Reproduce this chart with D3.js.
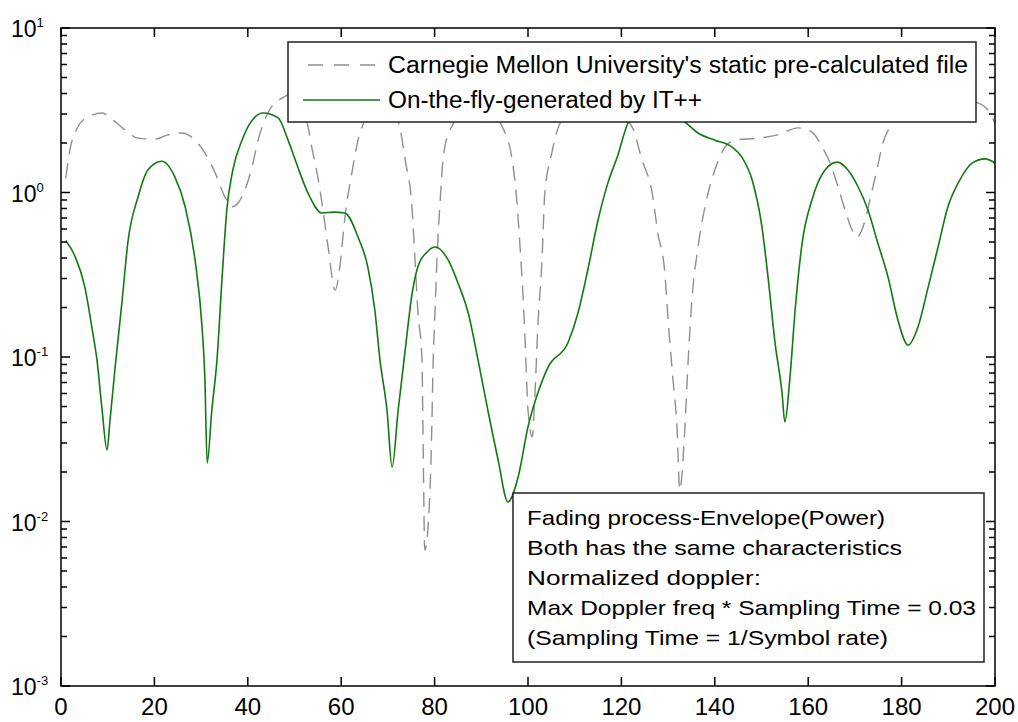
<!DOCTYPE html>
<html><head><meta charset="utf-8">
<script src="https://cdn.jsdelivr.net/npm/d3@7/dist/d3.min.js"></script>
<style>body{margin:0;background:#fff}svg{display:block}text{font-family:"Liberation Sans",Arial,sans-serif;fill:#000}</style>
</head><body><svg id="c" width="1018" height="722"></svg>
<script>
const greenX = [1,3,5.1,6.6,7.7,8.8,9.85,10.5,11.6,13.1,14.3,16.5,18.6,21.6,24.4,26.6,28.7,30.2,30.8,31.3,32.3,33.4,34.5,35.5,36.8,38.8,40.5,43.3,46.5,48.6,50.7,52.9,55.9,58.4,60.8,63.6,65.7,67.2,68.3,69.8,70.9,72.2,73.7,75.2,76.4,78.4,80.1,82.9,85.0,87.2,89.3,91.4,93.6,95.7,97.9,100.0,102.1,104.3,108.6,110.7,112.8,115.0,117.1,119.1,121.8,127.2,133.6,136.4,140.0,143.7,145.8,148.0,150.1,151.4,152.9,154.4,155.0,156.1,157.2,158.7,160.8,163.6,166.2,168.5,170.7,172.8,174.9,177.1,179.2,181.4,183.5,185.7,187.8,189.9,192.1,195.1,197.9,200];
const greenY = [0.51,0.41,0.267,0.152,0.096,0.0476,0.0272,0.0414,0.0869,0.222,0.493,0.94,1.37,1.55,1.24,0.817,0.389,0.152,0.0755,0.0227,0.0476,0.096,0.306,0.783,1.37,2.09,2.64,3.04,2.84,2.09,1.43,0.99,0.75,0.76,0.75,0.536,0.352,0.193,0.096,0.0476,0.0214,0.0476,0.110,0.245,0.352,0.435,0.466,0.389,0.282,0.185,0.096,0.0476,0.0237,0.01315,0.0187,0.0376,0.0604,0.0869,0.123,0.185,0.338,0.68,1.14,1.64,2.76,3.3,2.68,2.30,2.08,1.89,1.64,1.19,0.616,0.306,0.122,0.0604,0.0403,0.0755,0.193,0.493,0.90,1.37,1.53,1.37,1.08,0.783,0.493,0.306,0.168,0.118,0.152,0.267,0.466,0.817,1.14,1.51,1.60,1.51];
const grayX = [1,1.9,3.6,5.8,8.8,11.1,13.7,16.5,20.1,22.9,25.9,28.7,30.8,33.0,35.1,36.6,37.9,39.4,40.9,42.2,44.3,47.3,50.1,52.7,53.7,55.0,56.1,57.2,58.7,59.7,60.8,62.3,64.0,68.3,72.2,73.7,75.2,75.8,76.4,77.3,77.5,77.9,79.0,79.4,79.7,80.1,80.5,81.2,81.8,83.3,89.3,94.6,96.6,97.6,98.3,98.9,99.4,100.0,100.9,101.5,102.1,103.0,103.6,105.1,106.9,114.6,122.3,124.4,126.6,127.8,129.3,130.0,131.0,131.9,132.5,133.6,134.3,135.1,136.4,137.9,140.0,142.2,144.3,149.3,153.5,157.8,160.8,163.0,164.7,166.4,167.9,169.4,170.4,172.2,173.2,174.7,176.0,177.5,186,196.4,198.5,200];
const grayY = [1.22,1.81,2.50,2.88,3.04,2.76,2.40,2.14,2.11,2.24,2.30,2.08,1.74,1.32,0.94,0.817,0.863,1.04,1.43,2.08,3.04,3.75,4.0,2.68,1.89,1.24,0.783,0.466,0.255,0.352,0.71,1.32,2.30,3.5,2.68,1.58,0.783,0.389,0.193,0.096,0.0376,0.0067,0.0149,0.0376,0.096,0.193,0.389,0.90,1.58,2.40,3.6,2.47,1.58,0.90,0.466,0.245,0.122,0.0476,0.0327,0.0604,0.152,0.389,0.99,1.74,2.64,3.8,2.50,1.58,0.99,0.567,0.324,0.168,0.0755,0.0376,0.0155,0.0376,0.096,0.222,0.466,0.817,1.37,1.89,2.08,2.14,2.24,2.47,2.33,1.89,1.51,1.08,0.783,0.592,0.536,0.68,0.90,1.37,2.00,2.50,4.0,3.50,3.17,2.64];
const xTicks = [0,20,40,60,80,100,120,140,160,180,200];
const yExponents = [1,0,-1,-2,-3];
const legendLabels = ["Carnegie Mellon University's static pre-calculated file","On-the-fly-generated by IT++"];
const noteLines = ["Fading process-Envelope(Power)","Both has the same characteristics","Normalized doppler:","Max Doppler freq * Sampling Time = 0.03","(Sampling Time = 1/Symbol rate)"];
const noteWidths = [358,375,234,449,361];

const L=61,R=995,T=28,B=686;
const svg=d3.select("#c");
const x=d3.scaleLinear().domain([0,200]).range([L,R]);
const y=d3.scaleLog().domain([1e-3,10]).range([B,T]);

svg.append("clipPath").attr("id","clip").append("rect").attr("x",L).attr("y",T).attr("width",R-L).attr("height",B-T);

const line=d3.line().x(d=>x(d[0])).y(d=>y(d[1])).curve(d3.curveMonotoneX);
const gray=grayX.map((v,i)=>[v,grayY[i]]);
const green=greenX.map((v,i)=>[v,greenY[i]]);
const gL=svg.append("g").attr("clip-path","url(#clip)");
gL.append("path").attr("d",line(gray)).attr("fill","none").attr("stroke","#8f8f8f").attr("stroke-width",1.4).attr("stroke-dasharray","15,9");
gL.append("path").attr("d",line(green)).attr("fill","none").attr("stroke","#0f7a0f").attr("stroke-width",1.6);

svg.append("rect").attr("x",L).attr("y",T).attr("width",R-L).attr("height",B-T).attr("fill","none").attr("stroke","#000").attr("stroke-width",1.5);

// ticks as one path built from the scales
const majors=yExponents.map(e=>Math.pow(10,e));
const minors=[];
for(let e=-3;e<1;e++) for(let m=2;m<=9;m++) minors.push(m*Math.pow(10,e));
let td="";
majors.forEach(v=>{const p=y(v);td+=`M${L},${p}h9M${R},${p}h-9`;});
minors.forEach(v=>{const p=y(v);td+=`M${L},${p}h6M${R},${p}h-6`;});
xTicks.forEach(v=>{const p=x(v);td+=`M${p},${B}v-9M${p},${T}v9`;});
svg.append("path").attr("d",td).attr("fill","none").attr("stroke","#000").attr("stroke-width",1.5);

// x labels
svg.append("g").selectAll("text").data(xTicks).join("text")
  .attr("x",d=>x(d)).attr("y",B+29).attr("text-anchor","middle").attr("font-size",24).text(d=>d);
// y labels
const yl=svg.append("g").selectAll("text").data(yExponents).join("text")
  .attr("x",11).attr("y",d=>y(Math.pow(10,d))+9).attr("font-size",23);
yl.append("tspan").text("10");
yl.append("tspan").attr("font-size",13).attr("dy",-10).text(d=>d);

// legend
const lg=svg.append("g");
lg.append("rect").attr("x",288).attr("y",42).attr("width",688).attr("height",80).attr("fill","#fff").attr("stroke","#222").attr("stroke-width",1.5);
lg.append("line").attr("x1",308).attr("x2",380).attr("y1",65).attr("y2",65).attr("stroke","#8f8f8f").attr("stroke-width",1.4).attr("stroke-dasharray","15,11");
lg.append("line").attr("x1",303).attr("x2",380).attr("y1",100).attr("y2",100).attr("stroke","#0f7a0f").attr("stroke-width",1.6);
lg.selectAll("text").data(legendLabels).join("text").attr("x",388).attr("y",(d,i)=>73+i*35).attr("font-size",23)
  .attr("textLength",(d,i)=>i===0?580:314).attr("lengthAdjust","spacingAndGlyphs").text(d=>d);

// note box
const nb=svg.append("g");
nb.append("rect").attr("x",513).attr("y",493).attr("width",471).attr("height",169).attr("fill","#fff").attr("stroke","#222").attr("stroke-width",1.5);
nb.selectAll("text").data(noteLines).join("text").attr("x",527).attr("y",(d,i)=>525+i*30).attr("font-size",21)
  .attr("textLength",(d,i)=>noteWidths[i]).attr("lengthAdjust","spacingAndGlyphs").text(d=>d);
</script></body></html>
